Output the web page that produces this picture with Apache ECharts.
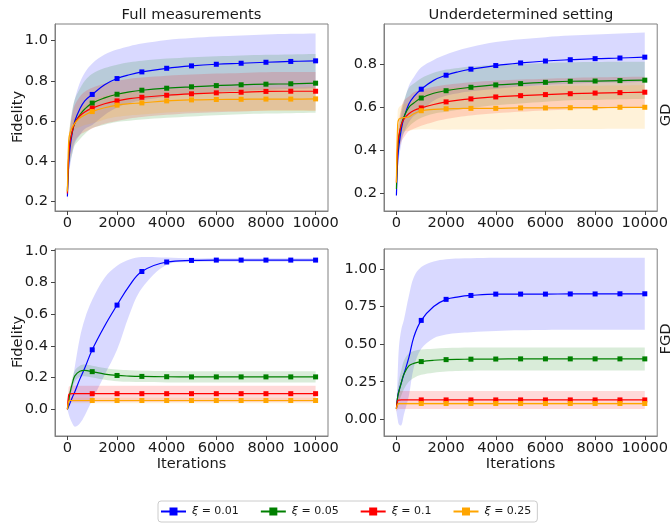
<!DOCTYPE html>
<html>
<head>
<meta charset="utf-8">
<script src="https://cdn.jsdelivr.net/npm/echarts@6/dist/echarts.min.js"></script>
<style>html,body{margin:0;padding:0;background:#fff;}#c{width:671px;height:523px;}</style>
</head>
<body>
<div id="c"></div>
<script>
// ---------- data ----------
const X = [0, 50, 100, 200, 300, 500, 700, 1000, 1500, 2000, 2500, 3000, 4000, 5000, 6000, 7000, 8000, 9000, 10000];
const MARKER_X = [1000, 2000, 3000, 4000, 5000, 6000, 7000, 8000, 9000, 10000];
const SERIES_NAMES = ['ξ = 0.01', 'ξ = 0.05', 'ξ = 0.1', 'ξ = 0.25'];
const COLUMN_TITLES = ['Full measurements', 'Underdetermined setting'];
const ROW_LABELS = ['GD', 'FGD'];
const Y_LABEL = 'Fidelity';
const X_LABEL = 'Iterations';
const X_TICKS = [0, 2000, 4000, 6000, 8000, 10000];
const Y_TICKS_TL = [0.2, 0.4, 0.6, 0.8, 1.0];
const Y_TICKS_TR = [0.2, 0.4, 0.6, 0.8];
const Y_TICKS_BL = [0.0, 0.2, 0.4, 0.6, 0.8, 1.0];
const Y_TICKS_BR = [0.0, 0.25, 0.5, 0.75, 1.0];

// Top-left: full measurements, GD
const tl_blue    = [0.225, 0.38, 0.46, 0.545, 0.60, 0.66, 0.70, 0.732, 0.78, 0.811, 0.83, 0.844, 0.862, 0.874, 0.882, 0.887, 0.892, 0.896, 0.899];
const tl_blue_hi = [0.25, 0.45, 0.55, 0.65, 0.71, 0.79, 0.84, 0.886, 0.93, 0.955, 0.972, 0.985, 1.003, 1.013, 1.02, 1.025, 1.03, 1.033, 1.035];
const tl_blue_lo = [0.20, 0.31, 0.37, 0.44, 0.49, 0.53, 0.56, 0.58, 0.63, 0.667, 0.688, 0.703, 0.721, 0.735, 0.744, 0.749, 0.754, 0.759, 0.763];
const tl_green    = [0.25, 0.42, 0.49, 0.55, 0.59, 0.63, 0.66, 0.689, 0.715, 0.733, 0.745, 0.753, 0.763, 0.770, 0.776, 0.780, 0.783, 0.785, 0.788];
const tl_green_hi = [0.29, 0.50, 0.58, 0.66, 0.71, 0.76, 0.80, 0.835, 0.863, 0.88, 0.892, 0.90, 0.91, 0.917, 0.922, 0.926, 0.929, 0.931, 0.933];
const tl_green_lo = [0.21, 0.34, 0.39, 0.44, 0.48, 0.51, 0.535, 0.565, 0.582, 0.595, 0.601, 0.607, 0.616, 0.623, 0.629, 0.634, 0.637, 0.639, 0.641];
const tl_red    = [0.24, 0.42, 0.49, 0.55, 0.59, 0.625, 0.645, 0.664, 0.686, 0.70, 0.711, 0.718, 0.728, 0.735, 0.740, 0.743, 0.747, 0.748, 0.748];
const tl_red_hi = [0.28, 0.49, 0.57, 0.64, 0.68, 0.72, 0.745, 0.765, 0.786, 0.80, 0.81, 0.816, 0.825, 0.831, 0.836, 0.839, 0.842, 0.843, 0.844];
const tl_red_lo = [0.20, 0.35, 0.41, 0.46, 0.50, 0.53, 0.545, 0.563, 0.586, 0.60, 0.612, 0.62, 0.631, 0.639, 0.644, 0.647, 0.652, 0.653, 0.652];
const tl_orange    = [0.25, 0.50, 0.54, 0.57, 0.59, 0.615, 0.63, 0.647, 0.666, 0.679, 0.686, 0.690, 0.700, 0.705, 0.707, 0.708, 0.709, 0.709, 0.710];
const tl_orange_hi = [0.28, 0.53, 0.57, 0.60, 0.62, 0.66, 0.68, 0.705, 0.724, 0.737, 0.744, 0.748, 0.758, 0.763, 0.765, 0.767, 0.768, 0.768, 0.77];
const tl_orange_lo = [0.22, 0.47, 0.51, 0.54, 0.56, 0.57, 0.58, 0.589, 0.608, 0.621, 0.628, 0.632, 0.642, 0.647, 0.649, 0.649, 0.65, 0.65, 0.65];

// Top-right: underdetermined, GD
const tr_blue    = [0.19, 0.35, 0.42, 0.50, 0.55, 0.615, 0.65, 0.684, 0.725, 0.749, 0.765, 0.777, 0.794, 0.806, 0.815, 0.821, 0.826, 0.829, 0.833];
const tr_blue_hi = [0.22, 0.40, 0.48, 0.57, 0.62, 0.70, 0.74, 0.786, 0.82, 0.845, 0.865, 0.88, 0.903, 0.916, 0.926, 0.933, 0.938, 0.943, 0.947];
const tr_blue_lo = [0.16, 0.30, 0.36, 0.43, 0.48, 0.53, 0.56, 0.582, 0.63, 0.653, 0.665, 0.674, 0.685, 0.696, 0.704, 0.709, 0.714, 0.715, 0.719];
const tr_green    = [0.22, 0.40, 0.46, 0.52, 0.555, 0.60, 0.62, 0.643, 0.665, 0.677, 0.686, 0.693, 0.704, 0.710, 0.716, 0.721, 0.722, 0.724, 0.726];
const tr_green_hi = [0.24, 0.45, 0.52, 0.59, 0.63, 0.69, 0.71, 0.735, 0.76, 0.775, 0.783, 0.789, 0.798, 0.802, 0.806, 0.809, 0.81, 0.811, 0.812];
const tr_green_lo = [0.20, 0.35, 0.40, 0.45, 0.48, 0.51, 0.53, 0.551, 0.57, 0.579, 0.589, 0.597, 0.61, 0.618, 0.626, 0.633, 0.634, 0.637, 0.64];
const tr_red    = [0.25, 0.42, 0.47, 0.52, 0.545, 0.57, 0.585, 0.597, 0.613, 0.625, 0.633, 0.639, 0.648, 0.654, 0.659, 0.663, 0.666, 0.668, 0.670];
const tr_red_hi = [0.30, 0.49, 0.54, 0.60, 0.63, 0.65, 0.67, 0.68, 0.695, 0.705, 0.711, 0.716, 0.724, 0.729, 0.733, 0.736, 0.739, 0.741, 0.742];
const tr_red_lo = [0.20, 0.35, 0.40, 0.44, 0.46, 0.49, 0.50, 0.514, 0.532, 0.545, 0.555, 0.562, 0.572, 0.579, 0.585, 0.59, 0.593, 0.595, 0.598];
const tr_orange    = [0.25, 0.52, 0.545, 0.55, 0.552, 0.555, 0.57, 0.584, 0.59, 0.593, 0.594, 0.595, 0.595, 0.597, 0.597, 0.598, 0.598, 0.60, 0.60];
const tr_orange_hi = [0.30, 0.58, 0.60, 0.61, 0.615, 0.62, 0.64, 0.67, 0.683, 0.69, 0.693, 0.695, 0.697, 0.698, 0.699, 0.70, 0.70, 0.701, 0.702];
const tr_orange_lo = [0.20, 0.44, 0.48, 0.49, 0.49, 0.49, 0.495, 0.498, 0.497, 0.496, 0.497, 0.497, 0.497, 0.498, 0.498, 0.499, 0.499, 0.50, 0.50];

// Bottom-left: full measurements, FGD
const bl_blue    = [0.0, 0.018, 0.037, 0.075, 0.11, 0.19, 0.26, 0.375, 0.525, 0.657, 0.78, 0.869, 0.929, 0.939, 0.941, 0.941, 0.941, 0.941, 0.941];
const bl_blue_hi = [0.0, 0.05, 0.09, 0.17, 0.27, 0.45, 0.57, 0.69, 0.83, 0.905, 0.945, 0.96, 0.957, 0.952, 0.952, 0.952, 0.952, 0.952, 0.952];
const bl_blue_lo = [0.0, -0.03, -0.055, -0.09, -0.11, -0.09, -0.04, 0.058, 0.216, 0.375, 0.598, 0.763, 0.912, 0.928, 0.931, 0.931, 0.931, 0.931, 0.931];
const bl_green    = [0.0, 0.05, 0.10, 0.165, 0.21, 0.24, 0.245, 0.237, 0.222, 0.213, 0.209, 0.207, 0.205, 0.204, 0.204, 0.204, 0.204, 0.204, 0.204];
const bl_green_hi = [0.01, 0.08, 0.13, 0.20, 0.245, 0.275, 0.282, 0.275, 0.26, 0.25, 0.246, 0.243, 0.241, 0.24, 0.24, 0.239, 0.239, 0.239, 0.239];
const bl_green_lo = [-0.01, 0.02, 0.07, 0.13, 0.175, 0.205, 0.208, 0.20, 0.186, 0.177, 0.173, 0.171, 0.169, 0.169, 0.169, 0.169, 0.169, 0.169, 0.169];
const bl_red    = [0.0, 0.09, 0.097, 0.098, 0.098, 0.098, 0.098, 0.098, 0.098, 0.098, 0.098, 0.098, 0.098, 0.098, 0.098, 0.098, 0.098, 0.098, 0.098];
const bl_red_hi = [0.01, 0.14, 0.147, 0.148, 0.148, 0.148, 0.148, 0.148, 0.148, 0.148, 0.148, 0.148, 0.148, 0.148, 0.148, 0.148, 0.148, 0.148, 0.148];
const bl_red_lo = [-0.01, 0.04, 0.046, 0.046, 0.046, 0.046, 0.046, 0.046, 0.046, 0.046, 0.046, 0.046, 0.046, 0.046, 0.046, 0.046, 0.046, 0.046, 0.046];
const bl_orange    = [0.0, 0.05, 0.055, 0.055, 0.055, 0.055, 0.055, 0.055, 0.055, 0.055, 0.055, 0.055, 0.055, 0.055, 0.055, 0.055, 0.055, 0.055, 0.055];
const bl_orange_hi = [0.01, 0.068, 0.072, 0.072, 0.072, 0.072, 0.072, 0.072, 0.072, 0.072, 0.072, 0.072, 0.072, 0.072, 0.072, 0.072, 0.072, 0.072, 0.072];
const bl_orange_lo = [-0.01, 0.033, 0.037, 0.037, 0.037, 0.037, 0.037, 0.037, 0.037, 0.037, 0.037, 0.037, 0.037, 0.037, 0.037, 0.037, 0.037, 0.037, 0.037];

// Bottom-right: underdetermined, FGD
const br_blue    = [0.07, 0.15, 0.19, 0.245, 0.30, 0.41, 0.547, 0.658, 0.75, 0.798, 0.815, 0.824, 0.833, 0.833, 0.833, 0.834, 0.834, 0.835, 0.835];
const br_blue_hi = [0.10, 0.30, 0.48, 0.60, 0.66, 0.82, 0.945, 1.013, 1.05, 1.065, 1.07, 1.072, 1.074, 1.075, 1.075, 1.075, 1.075, 1.075, 1.075];
const br_blue_lo = [0.05, 0.0, -0.035, -0.04, 0.03, 0.155, 0.345, 0.469, 0.54, 0.565, 0.575, 0.58, 0.588, 0.592, 0.594, 0.595, 0.595, 0.595, 0.595];
const br_green    = [0.07, 0.15, 0.185, 0.245, 0.30, 0.355, 0.372, 0.384, 0.393, 0.397, 0.399, 0.40, 0.401, 0.402, 0.402, 0.402, 0.402, 0.402, 0.402];
const br_green_hi = [0.09, 0.20, 0.26, 0.33, 0.39, 0.44, 0.455, 0.465, 0.47, 0.474, 0.476, 0.477, 0.477, 0.477, 0.477, 0.477, 0.477, 0.477, 0.477];
const br_green_lo = [0.05, 0.10, 0.12, 0.16, 0.20, 0.25, 0.275, 0.296, 0.31, 0.318, 0.321, 0.323, 0.324, 0.324, 0.324, 0.324, 0.324, 0.324, 0.324];
const br_red    = [0.07, 0.125, 0.128, 0.129, 0.129, 0.129, 0.129, 0.129, 0.129, 0.129, 0.129, 0.129, 0.129, 0.129, 0.129, 0.129, 0.129, 0.129, 0.129];
const br_red_hi = [0.09, 0.18, 0.188, 0.189, 0.189, 0.189, 0.189, 0.189, 0.189, 0.189, 0.189, 0.189, 0.189, 0.189, 0.189, 0.189, 0.189, 0.189, 0.189];
const br_red_lo = [0.05, 0.065, 0.068, 0.069, 0.069, 0.069, 0.069, 0.069, 0.069, 0.069, 0.069, 0.069, 0.069, 0.069, 0.069, 0.069, 0.069, 0.069, 0.069];
const br_orange    = [0.07, 0.10, 0.104, 0.105, 0.105, 0.105, 0.105, 0.105, 0.105, 0.105, 0.105, 0.105, 0.105, 0.105, 0.105, 0.105, 0.105, 0.105, 0.105];
const br_orange_hi = [0.08, 0.108, 0.113, 0.114, 0.114, 0.114, 0.114, 0.114, 0.114, 0.114, 0.114, 0.114, 0.114, 0.114, 0.114, 0.114, 0.114, 0.114, 0.114];
const br_orange_lo = [0.06, 0.092, 0.096, 0.097, 0.097, 0.097, 0.097, 0.097, 0.097, 0.097, 0.097, 0.097, 0.097, 0.097, 0.097, 0.097, 0.097, 0.097, 0.097];

// ---------- styling / assembly ----------
const COLORS = ['#0000ff', '#008000', '#ff0000', '#ffa500'];
const BAND_FILLS = ['rgba(0,0,255,0.15)', 'rgba(0,128,0,0.15)', 'rgba(255,0,0,0.15)', 'rgba(255,165,0,0.15)'];
const FONT = 'DejaVu Sans';
const TXT = '#1a1a1a';
const TICK_FS = 14.6;

const panels = [
  { grid: { left: 55, top: 24, width: 273, height: 187 }, yMin: 0.153, yMax: 1.082, yTicks: Y_TICKS_TL, dec: 1, xName: '',
    mean: [tl_blue, tl_green, tl_red, tl_orange], hi: [tl_blue_hi, tl_green_hi, tl_red_hi, tl_orange_hi], lo: [tl_blue_lo, tl_green_lo, tl_red_lo, tl_orange_lo] },
  { grid: { left: 384, top: 24, width: 274, height: 187 }, yMin: 0.118, yMax: 0.987, yTicks: Y_TICKS_TR, dec: 1, xName: '',
    mean: [tr_blue, tr_green, tr_red, tr_orange], hi: [tr_blue_hi, tr_green_hi, tr_red_hi, tr_orange_hi], lo: [tr_blue_lo, tr_green_lo, tr_red_lo, tr_orange_lo] },
  { grid: { left: 55, top: 249, width: 273, height: 187 }, yMin: -0.169, yMax: 1.011, yTicks: Y_TICKS_BL, dec: 1, xName: X_LABEL,
    mean: [bl_blue, bl_green, bl_red, bl_orange], hi: [bl_blue_hi, bl_green_hi, bl_red_hi, bl_orange_hi], lo: [bl_blue_lo, bl_green_lo, bl_red_lo, bl_orange_lo] },
  { grid: { left: 384, top: 249, width: 274, height: 187 }, yMin: -0.111, yMax: 1.133, yTicks: Y_TICKS_BR, dec: 2, xName: X_LABEL,
    mean: [br_blue, br_green, br_red, br_orange], hi: [br_blue_hi, br_green_hi, br_red_hi, br_orange_hi], lo: [br_blue_lo, br_green_lo, br_red_lo, br_orange_lo] }
];

const grids = [], xAxes = [], yAxes = [], series = [];
panels.forEach((p, i) => {
  grids.push(Object.assign({ show: true, borderColor: '#808080', borderWidth: 1, backgroundColor: 'transparent', containLabel: false }, p.grid));
  xAxes.push({
    type: 'value', gridIndex: i, min: -500, max: 10500,
    name: p.xName, nameLocation: 'middle', nameGap: 20,
    nameTextStyle: { fontFamily: FONT, fontSize: TICK_FS, color: TXT },
    splitLine: { show: false },
    axisLine: { show: true, onZero: false, lineStyle: { color: '#808080', width: 1 } },
    axisTick: { show: true, length: 4, inside: false, customValues: X_TICKS, lineStyle: { color: '#444' } },
    axisLabel: { customValues: X_TICKS, margin: 5, fontFamily: FONT, fontSize: TICK_FS, color: TXT, formatter: v => String(Math.round(v)) }
  });
  yAxes.push({
    type: 'value', gridIndex: i, min: p.yMin, max: p.yMax,
    splitLine: { show: false },
    axisLine: { show: true, onZero: false, lineStyle: { color: '#808080', width: 1 } },
    axisTick: { show: true, length: 4, inside: false, customValues: p.yTicks, lineStyle: { color: '#444' } },
    axisLabel: { customValues: p.yTicks, margin: 7, fontFamily: FONT, fontSize: TICK_FS, color: TXT, formatter: v => v.toFixed(p.dec) }
  });
  // bands (mean ± spread), drawn as one smoothed polygon through the axis scales
  for (let s = 0; s < 4; s++) {
    const lo = p.lo[s], hi = p.hi[s];
    series.push({
      type: 'custom', name: 'band' + i + '_' + s, xAxisIndex: i, yAxisIndex: i, silent: true, z: 1,
      data: X.map((x, k) => [x, lo[k], hi[k]]),
      encode: { x: 0, y: [1, 2] },
      renderItem: (params, api) => {
        if (params.dataIndex !== 0) return { type: 'group', children: [] };
        const up = X.map((x, k) => api.coord([x, hi[k]]));
        const dn = X.map((x, k) => api.coord([x, lo[k]])).reverse();
        // duplicate the four corners so the smoothing keeps the ends square
        const pts = [up[0]].concat(up, [up[up.length - 1], dn[0]], dn, [dn[dn.length - 1]]);
        return { type: 'polygon', shape: { points: pts, smooth: 0.35 }, style: { fill: BAND_FILLS[s], stroke: null } };
      }
    });
  }
  // mean lines with square markers every 1000 iterations
  for (let s = 0; s < 4; s++) {
    const m = p.mean[s];
    series.push({
      type: 'line', name: SERIES_NAMES[s], xAxisIndex: i, yAxisIndex: i, z: 3 + s,
      smooth: 0.4,
      symbol: 'rect', symbolSize: 5,
      lineStyle: { color: COLORS[s], width: 1.2 },
      itemStyle: { color: COLORS[s] },
      emphasis: { disabled: true },
      data: X.map((x, k) => ({ value: [x, m[k]], symbol: MARKER_X.includes(x) ? 'rect' : 'none' }))
    });
  }
});

const TFONT = '14.7px "DejaVu Sans"';
const LFONT = TICK_FS + 'px "DejaVu Sans"';
const graphics = [
  { type: 'text', x: 191.5, y: 15, style: { text: COLUMN_TITLES[0], font: TFONT, fill: TXT, textAlign: 'center', textVerticalAlign: 'middle' } },
  { type: 'text', x: 521, y: 15, style: { text: COLUMN_TITLES[1], font: TFONT, fill: TXT, textAlign: 'center', textVerticalAlign: 'middle' } },
  { type: 'text', x: 666, y: 115, rotation: Math.PI / 2, style: { text: ROW_LABELS[0], font: TFONT, fill: TXT, textAlign: 'center', textVerticalAlign: 'middle' } },
  { type: 'text', x: 666, y: 339, rotation: Math.PI / 2, style: { text: ROW_LABELS[1], font: TFONT, fill: TXT, textAlign: 'center', textVerticalAlign: 'middle' } },
  { type: 'text', x: 18, y: 117, rotation: Math.PI / 2, style: { text: Y_LABEL, font: LFONT, fill: TXT, textAlign: 'center', textVerticalAlign: 'middle' } },
  { type: 'text', x: 18, y: 342, rotation: Math.PI / 2, style: { text: Y_LABEL, font: LFONT, fill: TXT, textAlign: 'center', textVerticalAlign: 'middle' } }
];

const chart = echarts.init(document.getElementById('c'), null, { renderer: 'canvas' });
chart.setOption({
  animation: false,
  backgroundColor: '#fff',
  grid: grids, xAxis: xAxes, yAxis: yAxes, series: series,
  graphic: graphics,
  legend: {
    data: SERIES_NAMES,
    left: 158, top: 501,
    itemWidth: 25, itemHeight: 10, itemGap: 21,
    padding: [5, 6, 5, 2],
    borderColor: '#ccc', borderWidth: 1, borderRadius: 3, backgroundColor: '#fff',
    formatter: name => '{i|ξ}' + name.slice(1),
    textStyle: { fontFamily: FONT, fontSize: 11, color: TXT, padding: [0, 0, 0, 1], rich: { i: { fontStyle: 'italic', fontFamily: FONT, fontSize: 11, color: TXT } } }
  }
});
</script>
</body>
</html>
